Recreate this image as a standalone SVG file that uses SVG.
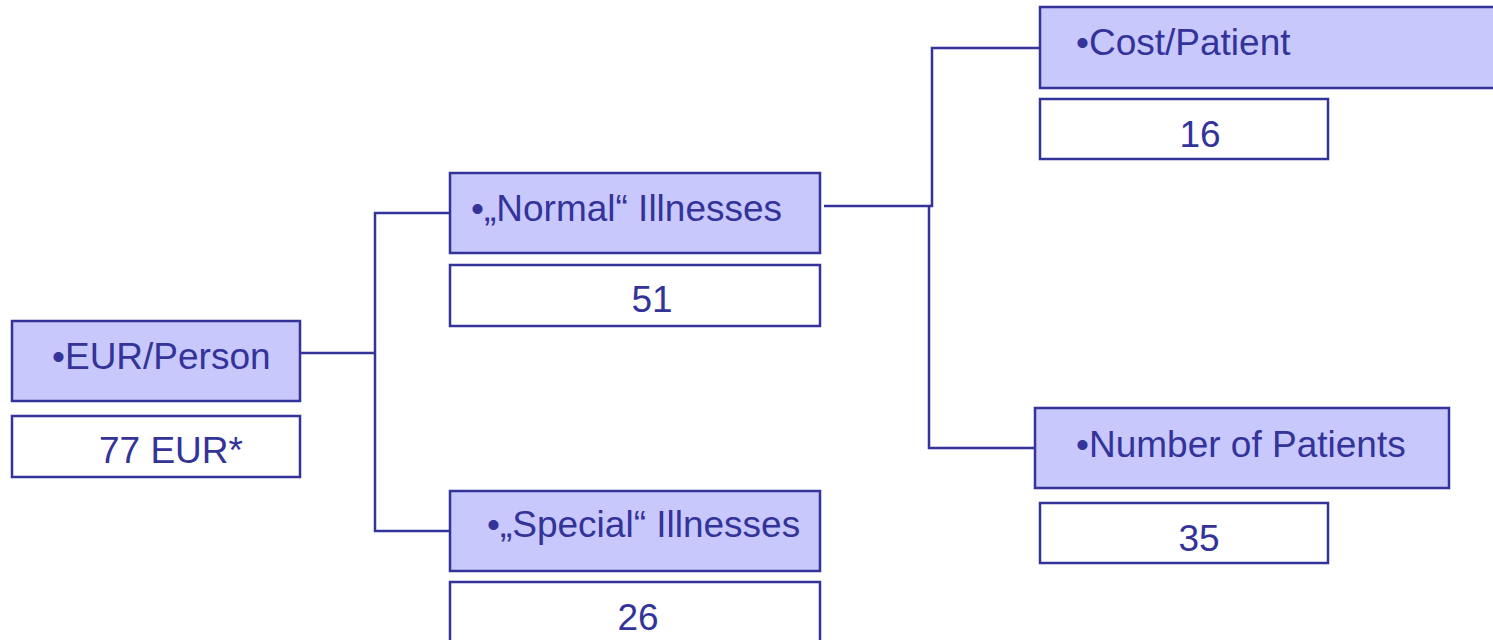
<svg xmlns="http://www.w3.org/2000/svg" width="1493" height="640" viewBox="0 0 1493 640">
<style>
.hdr{fill:#C8C8FC;stroke:#333399;stroke-width:2.5}
.val{fill:#FFFFFF;stroke:#333399;stroke-width:2.5}
.t{font-family:"Liberation Sans",Arial,sans-serif;font-size:37px;fill:#333399}
.c{text-anchor:middle}
.conn{fill:none;stroke:#333399;stroke-width:2.5}
</style>
<rect width="1493" height="640" fill="#FFFFFF"/>
<g id="connectors">
<polyline class="conn" points="300,353 375,353"/>
<polyline class="conn" points="450,213 375,213 375,531 450,531"/>
<polyline class="conn" points="824,206 932,206 932,48 1040,48"/>
<polyline class="conn" points="929,206 929,448 1035,448"/>
</g>
<g id="eur-person">
<rect class="hdr" x="12" y="321" width="288" height="80"/>
<text class="t" x="52" y="369">•EUR/Person</text>
<rect class="val" x="12" y="416" width="288" height="61"/>
<text class="t" x="99" y="463">77 EUR*</text>
</g>
<g id="normal">
<rect class="hdr" x="450" y="173" width="370" height="80"/>
<text class="t" x="471" y="221">•„Normal“ Illnesses</text>
<rect class="val" x="450" y="265" width="370" height="61"/>
<text class="t c" x="652" y="312">51</text>
</g>
<g id="special">
<rect class="hdr" x="450" y="491" width="370" height="80"/>
<text class="t" x="487" y="537">•„Special“ Illnesses</text>
<rect class="val" x="450" y="582" width="370" height="70"/>
<text class="t c" x="638" y="630">26</text>
</g>
<g id="cost-patient">
<rect class="hdr" x="1040" y="7" width="460" height="81"/>
<text class="t" x="1076" y="55">•Cost/Patient</text>
<rect class="val" x="1040" y="99" width="288" height="60"/>
<text class="t c" x="1200" y="147">16</text>
</g>
<g id="number-patients">
<rect class="hdr" x="1035" y="408" width="414" height="80"/>
<text class="t" x="1076" y="457">•Number of Patients</text>
<rect class="val" x="1040" y="503" width="288" height="60"/>
<text class="t c" x="1199" y="551">35</text>
</g>
</svg>
